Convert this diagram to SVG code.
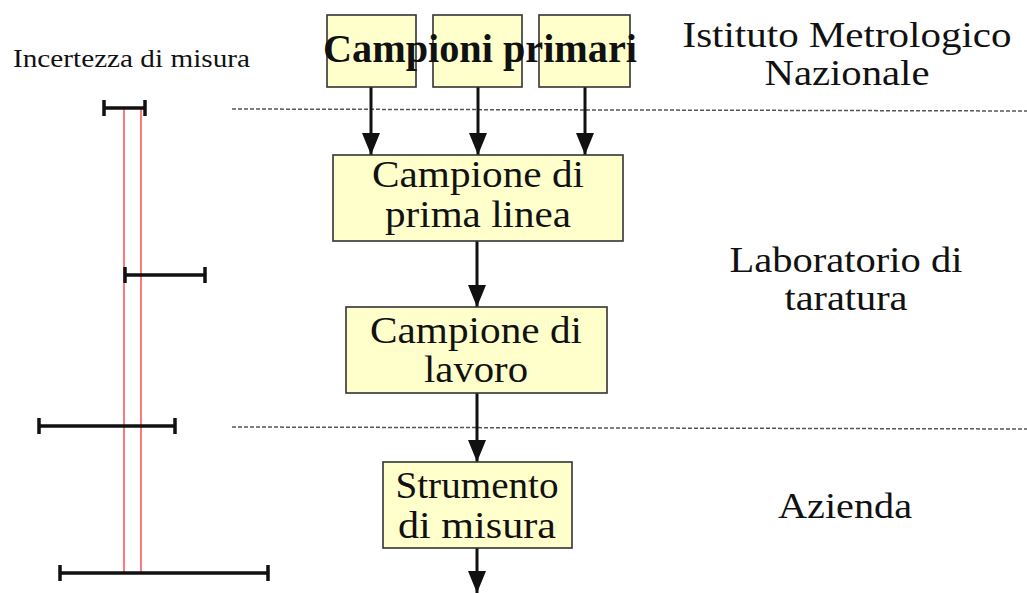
<svg xmlns="http://www.w3.org/2000/svg" width="1027" height="593" viewBox="0 0 1027 593">
<style>
.box{fill:#ffffcc;stroke:#333;stroke-width:1.6}
text{font-family:"Times New Roman","Liberation Serif",serif;fill:#111}
.t{text-anchor:middle}
.tb{font-weight:bold}
.conn{stroke:#111;stroke-width:3;fill:none}
.dash{stroke:#555;stroke-width:1.5;stroke-dasharray:4 2}
.eb{stroke:#111;stroke-width:3.5;fill:none}
.red{stroke:#ff3333;stroke-width:1.3}
</style>
<defs>
<marker id="ah" markerUnits="userSpaceOnUse" markerWidth="22" markerHeight="18" refX="22" refY="9" orient="auto" viewBox="0 0 22 18">
<path d="M0,0 L22,9 L0,18 Z" fill="#111"/>
</marker>
</defs>
<rect width="1027" height="593" fill="#fff"/>

<g id="separators">
<line class="dash" x1="232" y1="109" x2="1027" y2="111"/>
<line class="dash" x1="232" y1="427" x2="1027" y2="429"/>
</g>

<g id="uncertainty">
<text x="13" y="67" font-size="25" textLength="237" lengthAdjust="spacingAndGlyphs">Incertezza di misura</text>
<line class="red" x1="124" y1="108" x2="124" y2="573"/>
<line class="red" x1="141" y1="108" x2="141" y2="573"/>
<path class="eb" d="M104,108 H145 M104,100 V116 M145,100 V116"/>
<path class="eb" d="M125,275 H205 M125,267 V283 M205,267 V283"/>
<path class="eb" d="M39,426 H175 M39,418 V434 M175,418 V434"/>
<path class="eb" d="M60,573 H268 M60,565 V581 M268,565 V581"/>
</g>

<g id="labels">
<text class="t" x="847" y="47" font-size="36" textLength="329" lengthAdjust="spacingAndGlyphs">Istituto Metrologico</text>
<text class="t" x="847" y="85" font-size="36" textLength="165" lengthAdjust="spacingAndGlyphs">Nazionale</text>
<text class="t" x="846" y="272" font-size="36" textLength="233" lengthAdjust="spacingAndGlyphs">Laboratorio di</text>
<text class="t" x="846" y="310" font-size="36" textLength="123" lengthAdjust="spacingAndGlyphs">taratura</text>
<text class="t" x="845" y="518" font-size="36" textLength="134" lengthAdjust="spacingAndGlyphs">Azienda</text>
</g>

<g id="connectors">
<line class="conn" x1="371" y1="87" x2="371" y2="155" marker-end="url(#ah)"/>
<line class="conn" x1="478" y1="87" x2="478" y2="155" marker-end="url(#ah)"/>
<line class="conn" x1="585" y1="87" x2="585" y2="155" marker-end="url(#ah)"/>
<line class="conn" x1="477" y1="241" x2="477" y2="307" marker-end="url(#ah)"/>
<line class="conn" x1="477" y1="393" x2="477" y2="462" marker-end="url(#ah)"/>
<line class="conn" x1="477" y1="548" x2="477" y2="593" marker-end="url(#ah)"/>
</g>

<g id="primari">
<rect class="box" x="327" y="15" width="89" height="72"/>
<rect class="box" x="433" y="15" width="89" height="72"/>
<rect class="box" x="539" y="15" width="91" height="72"/>
<text class="tb" x="323" y="62" font-size="40" textLength="314" lengthAdjust="spacingAndGlyphs">Campioni primari</text>
</g>

<g id="prima-linea">
<rect class="box" x="333" y="155" width="290" height="86"/>
<text class="t" x="478" y="187" font-size="37" textLength="212" lengthAdjust="spacingAndGlyphs">Campione di</text>
<text class="t" x="478" y="227" font-size="37" textLength="186" lengthAdjust="spacingAndGlyphs">prima linea</text>
</g>

<g id="lavoro">
<rect class="box" x="346" y="307" width="261" height="86"/>
<text class="t" x="476" y="343" font-size="37" textLength="212" lengthAdjust="spacingAndGlyphs">Campione di</text>
<text class="t" x="476" y="382" font-size="37" textLength="104" lengthAdjust="spacingAndGlyphs">lavoro</text>
</g>

<g id="strumento">
<rect class="box" x="383" y="462" width="189" height="86"/>
<text class="t" x="477" y="498" font-size="37" textLength="163" lengthAdjust="spacingAndGlyphs">Strumento</text>
<text class="t" x="477" y="538" font-size="37" textLength="158" lengthAdjust="spacingAndGlyphs">di misura</text>
</g>
</svg>
